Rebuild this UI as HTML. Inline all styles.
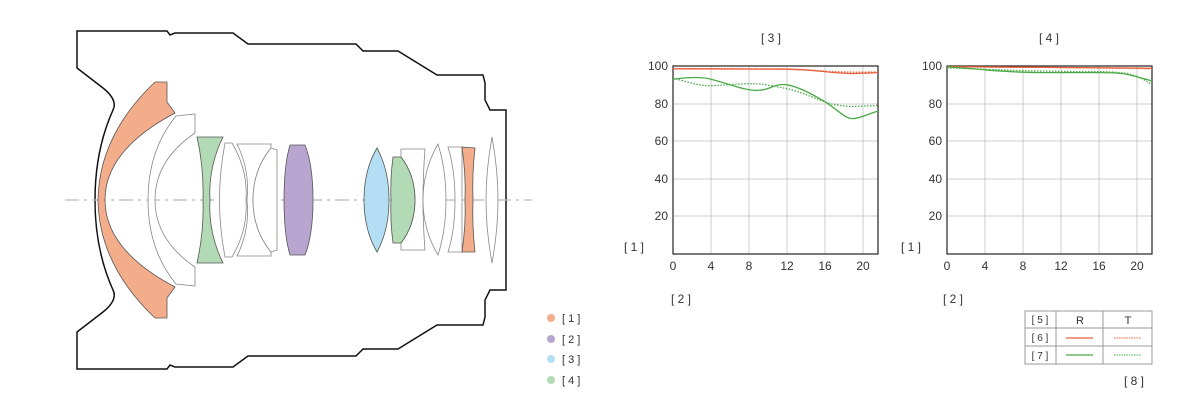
<!DOCTYPE html>
<html><head><meta charset="utf-8"><style>
html,body{margin:0;padding:0;background:#fff;width:1200px;height:400px;overflow:hidden}
svg{display:block}
text{font-family:"Liberation Sans",sans-serif;fill:#333}
</style></head><body>
<svg width="1200" height="400" viewBox="0 0 1200 400" xmlns="http://www.w3.org/2000/svg">
<!-- barrel -->
<path d="M77,31 L167,31 L170,35 L175,33 L233,33 L248,44 L356,44 L363,51 L398,51 L437,75 L483,75 L485,83 L485,100 L490,110 L506,110 L506,290 L490,290 L485,300 L485,317 L483,325 L437,325 L398,349 L363,349 L356,356 L248,356 L233,367 L175,367 L170,365 L167,369 L77,369 L77,332 L103,312 Q118,300 113,290 Q95,250 95,200 Q95,150 113,110 Q118,100 103,88 L77,68 Z" fill="none" stroke="#111" stroke-width="1.5"/>
<line x1="65" y1="200" x2="532" y2="200" stroke="#bbb" stroke-width="1.2" stroke-dasharray="14,5,3,5"/>
<!-- lenses -->
<g stroke="#555" stroke-width="0.8">
<path d="M155,82 L167,82 L167,102 L175,113 Q105,150 105,200 Q105,250 175,287 L167,298 L167,318 L155,318 Q99,265 98,200 Q99,135 155,82 Z" fill="#f4ad8a"/>
<path d="M176,116 L195,114 L195,133 Q155,160 155,200 Q155,240 195,267 L195,286 L176,284 Q148,250 148,200 Q148,150 176,116 Z" fill="#fff" stroke="#888"/>
<path d="M197,137 L223,137 Q208,168 210,200 Q208,232 223,263 L197,263 Q204,232 203,200 Q204,168 197,137 Z" fill="#b2dab5"/>
<path d="M225,143 L232,143 Q248,170 246,200 Q248,230 232,257 L225,257 Q214,200 225,143 Z" fill="#fff" stroke="#888"/>
<path d="M237,144 L271,144 L271,148 Q253,170 253,200 Q253,230 271,252 L271,256 L237,256 Q250,230 247,200 Q250,170 237,144 Z" fill="#fff" stroke="#888"/>
<path d="M271,148 L277,150 L277,250 L271,252 Q253,230 253,200 Q253,170 271,148 Z" fill="#fff" stroke="#888"/>
<path d="M290,145 L305,145 Q313,165 313,200 Q313,235 305,255 L290,255 Q284,235 284,200 Q284,165 290,145 Z" fill="#b8a6d0"/>
<path d="M377,148 Q389,170 389,200 Q389,230 377,252 Q364,230 364,200 Q364,170 377,148 Z" fill="#b3def4"/>
<path d="M401,149 L425,149 Q421,200 425,250 L401,250 L401,243 Q415,225 415,200 Q415,175 401,157 Z" fill="#fff" stroke="#888"/>
<path d="M393,157 L401,157 Q415,175 415,200 Q415,225 401,243 L393,243 Q390,220 391,200 Q390,180 393,157 Z" fill="#b2dab5"/>
<path d="M438,144 Q446,170 446,200 Q446,230 438,255 Q423,230 423,200 Q423,170 438,144 Z" fill="#fff" stroke="#888"/>
<path d="M448,147 L462,147 L462,252 L448,252 Q455,230 455,200 Q455,170 448,147 Z" fill="#fff" stroke="#888"/>
<path d="M462,147 L475,148 Q472,175 473,200 Q472,225 475,252 L462,252 Q466,225 465,200 Q466,175 462,147 Z" fill="#f4ad8a"/>
<path d="M492,137 Q498,170 498,200 Q498,230 492,263 Q486,230 486,200 Q486,170 492,137 Z" fill="#fff" stroke="#888"/>
</g>
<!-- legend -->
<circle cx="551" cy="318" r="4" fill="#f4ad8a"/><circle cx="551" cy="339" r="4" fill="#b8a6d0"/>
<circle cx="551" cy="359" r="4" fill="#b3def4"/><circle cx="551" cy="380" r="4" fill="#b2dab5"/>
<g font-size="11"><text x="562" y="322">[ 1 ]</text><text x="562" y="343">[ 2 ]</text><text x="562" y="363">[ 3 ]</text><text x="562" y="384">[ 4 ]</text></g>

<!-- chart 1 -->
<g stroke="#ccc" stroke-width="1">
<line x1="711" y1="66" x2="711" y2="254"/><line x1="749" y1="66" x2="749" y2="254"/><line x1="787" y1="66" x2="787" y2="254"/><line x1="825" y1="66" x2="825" y2="254"/><line x1="863" y1="66" x2="863" y2="254"/>
<line x1="673" y1="104" x2="878" y2="104"/><line x1="673" y1="141" x2="878" y2="141"/><line x1="673" y1="179" x2="878" y2="179"/><line x1="673" y1="216" x2="878" y2="216"/>
<line x1="985" y1="66" x2="985" y2="254"/><line x1="1023" y1="66" x2="1023" y2="254"/><line x1="1061" y1="66" x2="1061" y2="254"/><line x1="1099" y1="66" x2="1099" y2="254"/><line x1="1137" y1="66" x2="1137" y2="254"/>
<line x1="947" y1="104" x2="1152" y2="104"/><line x1="947" y1="141" x2="1152" y2="141"/><line x1="947" y1="179" x2="1152" y2="179"/><line x1="947" y1="216" x2="1152" y2="216"/>
</g>
<rect x="673" y="66" width="205" height="188" fill="none" stroke="#222" stroke-width="1.2"/>
<rect x="947" y="66" width="205" height="188" fill="none" stroke="#222" stroke-width="1.2"/>
<g fill="none" stroke-width="1.3" stroke-linejoin="round">
<path d="M673,68.8 C730,69 770,69 787,69.2 C805,69.5 815,70.5 825,71.6 C838,73 848,73.6 853.5,73.5 C865,73.3 872,72.8 878,72.6" stroke="#e8603c"/>
<path d="M673,68.5 C730,68.7 770,68.8 787,69 C805,69.5 815,70.5 825,71.2 C840,72 850,72.3 878,72" stroke="#e8603c" stroke-dasharray="1.5,1.5"/>
<path d="M673,79.2 C682,78 700,76 711,79.2 C730,84 745,91 758.5,90.4 C770,90 775,83 787,84.8 C800,87 815,96 825,101.7 C838,110 845,119 853.5,118.6 C862,118 870,113 878,111.1" stroke="#4caa48"/>
<path d="M673,78.2 C685,81 698,86 711,85.7 C730,85 745,83 758.5,83.9 C770,85 778,87 787,88.6 C805,93 818,100 830,103.6 C840,106 848,106.5 853.5,106.4 C865,106 872,105.6 878,105.5" stroke="#4caa48" stroke-dasharray="1.5,1.5"/>
<path d="M947,66.6 C1050,67 1100,67.5 1152,68.3" stroke="#e8603c"/>
<path d="M947,66.8 C1050,67.3 1100,67.8 1152,68.8" stroke="#e8603c" stroke-dasharray="1.5,1.5"/>
<path d="M947,66.9 C965,68 975,69 985,69.8 C1010,72 1025,72.6 1042,72.6 C1070,72.6 1085,72.6 1099,72.6 C1115,72.6 1122,73 1127.5,74.5 C1138,77 1145,79 1152,81" stroke="#4caa48"/>
<path d="M947,67.9 C980,69 1000,70 1023,70.7 C1060,71.5 1080,71.6 1099,71.6 C1112,71.8 1120,72.5 1127.5,73.5 C1138,76 1145,80 1152,84.8" stroke="#4caa48" stroke-dasharray="1.5,1.5"/>
</g>
<g font-size="12" text-anchor="end"><text x="668" y="70">100</text><text x="668" y="108">80</text><text x="668" y="145">60</text><text x="668" y="183">40</text><text x="668" y="220">20</text>
<text x="942" y="70">100</text><text x="942" y="108">80</text><text x="942" y="145">60</text><text x="942" y="183">40</text><text x="942" y="220">20</text></g>
<g font-size="12" text-anchor="middle"><text x="673" y="270">0</text><text x="711" y="270">4</text><text x="749" y="270">8</text><text x="787" y="270">12</text><text x="825" y="270">16</text><text x="863" y="270">20</text>
<text x="947" y="270">0</text><text x="985" y="270">4</text><text x="1023" y="270">8</text><text x="1061" y="270">12</text><text x="1099" y="270">16</text><text x="1137" y="270">20</text></g>
<g font-size="12" fill="#555" text-anchor="middle"><text x="771" y="42">[ 3 ]</text><text x="1049" y="42">[ 4 ]</text>
<text x="634" y="251">[ 1 ]</text><text x="911" y="251">[ 1 ]</text><text x="681" y="303">[ 2 ]</text><text x="953" y="303">[ 2 ]</text>
<text x="1134" y="385">[ 8 ]</text></g>
<!-- table -->
<g stroke="#999" stroke-width="1" fill="none">
<rect x="1025" y="311" width="127" height="53"/>
<line x1="1025" y1="328" x2="1152" y2="328"/><line x1="1025" y1="346" x2="1152" y2="346"/>
<line x1="1056" y1="311" x2="1056" y2="364"/><line x1="1103" y1="311" x2="1103" y2="364"/>
</g>
<g font-size="10" fill="#777" text-anchor="middle"><text x="1040" y="323">[ 5 ]</text><text x="1040" y="341">[ 6 ]</text><text x="1040" y="359">[ 7 ]</text></g>
<g font-size="11" text-anchor="middle"><text x="1080" y="324">R</text><text x="1128" y="324">T</text></g>
<line x1="1066" y1="338" x2="1093" y2="338" stroke="#e8603c" stroke-width="1.2"/>
<line x1="1114" y1="338" x2="1141" y2="338" stroke="#e8603c" stroke-width="1" stroke-dasharray="1.5,1"/>
<line x1="1066" y1="355" x2="1093" y2="355" stroke="#4caa48" stroke-width="1.2"/>
<line x1="1114" y1="355" x2="1141" y2="355" stroke="#4caa48" stroke-width="1" stroke-dasharray="1.5,1"/>
</svg>
</body></html>
